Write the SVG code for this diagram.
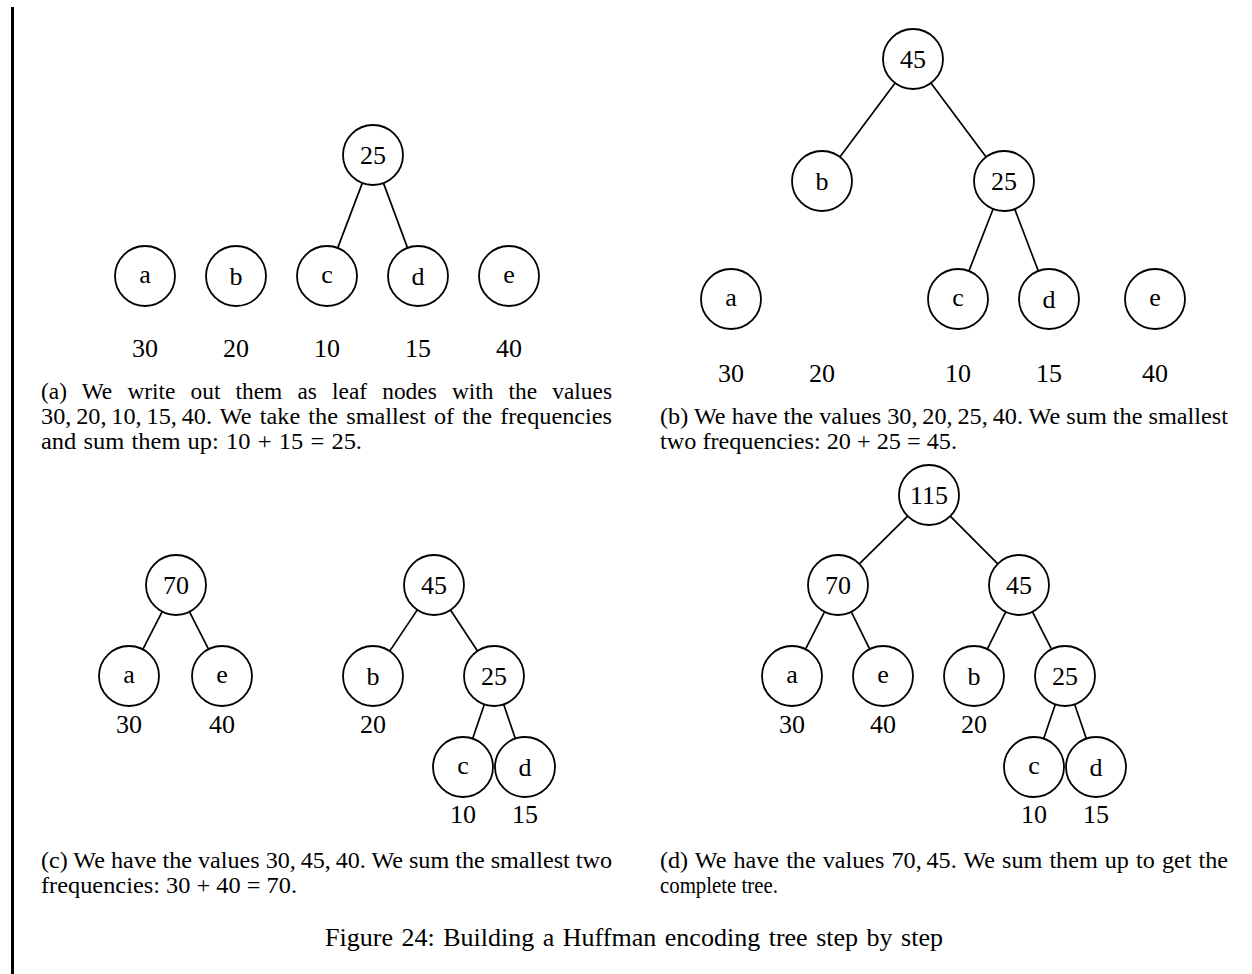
<svg xmlns="http://www.w3.org/2000/svg" width="1252" height="974" viewBox="0 0 1252 974">
<style>
.n circle{fill:#fff;stroke:#000;stroke-width:1.8}
.n text,.lbl{font-family:"Liberation Serif","Times New Roman",serif;font-size:26px;fill:#000;text-anchor:middle}
.e line{stroke:#000;stroke-width:1.7}
.cap{font-family:"Liberation Serif","Times New Roman",serif;font-size:22.5px;fill:#000}
.fig{font-family:"Liberation Serif","Times New Roman",serif;font-size:26px;fill:#000}
</style>
<rect x="0" y="0" width="1252" height="974" fill="#fff"/>
<line x1="12.5" y1="7" x2="12.5" y2="974" stroke="#000" stroke-width="3"/>

<!-- connectors -->
<g id="connectors" class="e">
  <!-- (a) -->
  <line x1="362.3" y1="183.1" x2="337.7" y2="247.9"/>
  <line x1="383.5" y1="183.1" x2="407.5" y2="247.9"/>
  <!-- (b) -->
  <line x1="895.1" y1="83" x2="839.9" y2="157"/>
  <line x1="930.9" y1="83" x2="986.1" y2="157"/>
  <line x1="993.1" y1="209" x2="968.9" y2="271"/>
  <line x1="1014.7" y1="209" x2="1038.3" y2="271"/>
  <!-- (c) -->
  <line x1="162.2" y1="611.7" x2="142.8" y2="649.3"/>
  <line x1="189.5" y1="611.8" x2="208.5" y2="649.2"/>
  <line x1="417.3" y1="609.9" x2="389.7" y2="651.1"/>
  <line x1="450.5" y1="610" x2="477.5" y2="651"/>
  <line x1="484.3" y1="704.4" x2="472.7" y2="738.6"/>
  <line x1="503.7" y1="704.4" x2="515.3" y2="738.6"/>
  <!-- (d) -->
  <line x1="907.7" y1="516.1" x2="859.3" y2="563.9"/>
  <line x1="950.2" y1="516.2" x2="997.8" y2="563.8"/>
  <line x1="824.5" y1="611.8" x2="805.5" y2="649.2"/>
  <line x1="851.3" y1="611.9" x2="869.7" y2="649.1"/>
  <line x1="1005.7" y1="611.9" x2="987.3" y2="649.1"/>
  <line x1="1032.5" y1="611.8" x2="1051.5" y2="649.2"/>
  <line x1="1055.3" y1="704.4" x2="1043.7" y2="738.6"/>
  <line x1="1074.7" y1="704.4" x2="1086.3" y2="738.6"/>
</g>

<!-- panel (a) -->
<g id="a-25" class="n"><circle cx="373" cy="155" r="30"/><text x="373" y="163.8">25</text></g>
<g id="a-a" class="n"><circle cx="145" cy="276" r="30"/><text x="145" y="282.5">a</text></g>
<g id="a-b" class="n"><circle cx="236" cy="276" r="30"/><text x="236" y="284.8">b</text></g>
<g id="a-c" class="n"><circle cx="327" cy="276" r="30"/><text x="327" y="282.5">c</text></g>
<g id="a-d" class="n"><circle cx="418" cy="276" r="30"/><text x="418" y="284.8">d</text></g>
<g id="a-e" class="n"><circle cx="509" cy="276" r="30"/><text x="509" y="282.5">e</text></g>
<g id="a-labels">
  <text class="lbl" x="145" y="357">30</text>
  <text class="lbl" x="236" y="357">20</text>
  <text class="lbl" x="327" y="357">10</text>
  <text class="lbl" x="418" y="357">15</text>
  <text class="lbl" x="509" y="357">40</text>
</g>
<g id="a-caption" class="cap">
  <text x="41" y="399" word-spacing="9" textLength="571" lengthAdjust="spacingAndGlyphs">(a) We write out them as leaf nodes with the values</text>
  <text x="41" y="424" word-spacing="2" textLength="571" lengthAdjust="spacingAndGlyphs">30,&#8201;20,&#8201;10,&#8201;15,&#8201;40.  We take the smallest of the frequencies</text>
  <text x="41" y="449" word-spacing="1" textLength="321" lengthAdjust="spacingAndGlyphs">and sum them up:  10 + 15 = 25.</text>
</g>

<!-- panel (b) -->
<g id="b-45" class="n"><circle cx="913" cy="59" r="30"/><text x="913" y="67.8">45</text></g>
<g id="b-b" class="n"><circle cx="822" cy="181" r="30"/><text x="822" y="189.8">b</text></g>
<g id="b-25" class="n"><circle cx="1004" cy="181" r="30"/><text x="1004" y="189.8">25</text></g>
<g id="b-a" class="n"><circle cx="731" cy="299" r="30"/><text x="731" y="305.5">a</text></g>
<g id="b-c" class="n"><circle cx="958" cy="299" r="30"/><text x="958" y="305.5">c</text></g>
<g id="b-d" class="n"><circle cx="1049" cy="299" r="30"/><text x="1049" y="307.8">d</text></g>
<g id="b-e" class="n"><circle cx="1155" cy="299" r="30"/><text x="1155" y="305.5">e</text></g>
<g id="b-labels">
  <text class="lbl" x="731" y="382">30</text>
  <text class="lbl" x="822" y="382">20</text>
  <text class="lbl" x="958" y="382">10</text>
  <text class="lbl" x="1049" y="382">15</text>
  <text class="lbl" x="1155" y="382">40</text>
</g>
<g id="b-caption" class="cap">
  <text x="660" y="424" textLength="568" lengthAdjust="spacingAndGlyphs">(b) We have the values 30,&#8201;20,&#8201;25,&#8201;40.  We sum the smallest</text>
  <text x="660" y="449" textLength="297" lengthAdjust="spacingAndGlyphs">two frequencies:  20 + 25 = 45.</text>
</g>

<!-- panel (c) -->
<g id="c-70" class="n"><circle cx="176" cy="585" r="30"/><text x="176" y="593.8">70</text></g>
<g id="c-a" class="n"><circle cx="129" cy="676" r="30"/><text x="129" y="682.5">a</text></g>
<g id="c-e" class="n"><circle cx="222" cy="676" r="30"/><text x="222" y="682.5">e</text></g>
<g id="c-45" class="n"><circle cx="434" cy="585" r="30"/><text x="434" y="593.8">45</text></g>
<g id="c-b" class="n"><circle cx="373" cy="676" r="30"/><text x="373" y="684.8">b</text></g>
<g id="c-25" class="n"><circle cx="494" cy="676" r="30"/><text x="494" y="684.8">25</text></g>
<g id="c-c" class="n"><circle cx="463" cy="767" r="30"/><text x="463" y="773.5">c</text></g>
<g id="c-d" class="n"><circle cx="525" cy="767" r="30"/><text x="525" y="775.8">d</text></g>
<g id="c-labels">
  <text class="lbl" x="129" y="733">30</text>
  <text class="lbl" x="222" y="733">40</text>
  <text class="lbl" x="373" y="733">20</text>
  <text class="lbl" x="463" y="823">10</text>
  <text class="lbl" x="525" y="823">15</text>
</g>
<g id="c-caption" class="cap">
  <text x="41" y="868" textLength="571" lengthAdjust="spacingAndGlyphs">(c) We have the values 30,&#8201;45,&#8201;40.  We sum the smallest two</text>
  <text x="41" y="893" textLength="256" lengthAdjust="spacingAndGlyphs">frequencies:  30 + 40 = 70.</text>
</g>

<!-- panel (d) -->
<g id="d-115" class="n"><circle cx="929" cy="495" r="30"/><text x="929" y="503.8">115</text></g>
<g id="d-70" class="n"><circle cx="838" cy="585" r="30"/><text x="838" y="593.8">70</text></g>
<g id="d-45" class="n"><circle cx="1019" cy="585" r="30"/><text x="1019" y="593.8">45</text></g>
<g id="d-a" class="n"><circle cx="792" cy="676" r="30"/><text x="792" y="682.5">a</text></g>
<g id="d-e" class="n"><circle cx="883" cy="676" r="30"/><text x="883" y="682.5">e</text></g>
<g id="d-b" class="n"><circle cx="974" cy="676" r="30"/><text x="974" y="684.8">b</text></g>
<g id="d-25" class="n"><circle cx="1065" cy="676" r="30"/><text x="1065" y="684.8">25</text></g>
<g id="d-c" class="n"><circle cx="1034" cy="767" r="30"/><text x="1034" y="773.5">c</text></g>
<g id="d-d" class="n"><circle cx="1096" cy="767" r="30"/><text x="1096" y="775.8">d</text></g>
<g id="d-labels">
  <text class="lbl" x="792" y="733">30</text>
  <text class="lbl" x="883" y="733">40</text>
  <text class="lbl" x="974" y="733">20</text>
  <text class="lbl" x="1034" y="823">10</text>
  <text class="lbl" x="1096" y="823">15</text>
</g>
<g id="d-caption" class="cap">
  <text x="660" y="868" word-spacing="1" textLength="568" lengthAdjust="spacingAndGlyphs">(d) We have the values 70,&#8201;45.  We sum them up to get the</text>
  <text x="660" y="893" textLength="118" lengthAdjust="spacingAndGlyphs">complete tree.</text>
</g>

<g id="figure-caption" class="fig">
  <text x="325" y="946" word-spacing="2" textLength="618" lengthAdjust="spacingAndGlyphs">Figure 24: Building a Huffman encoding tree step by step</text>
</g>
</svg>
